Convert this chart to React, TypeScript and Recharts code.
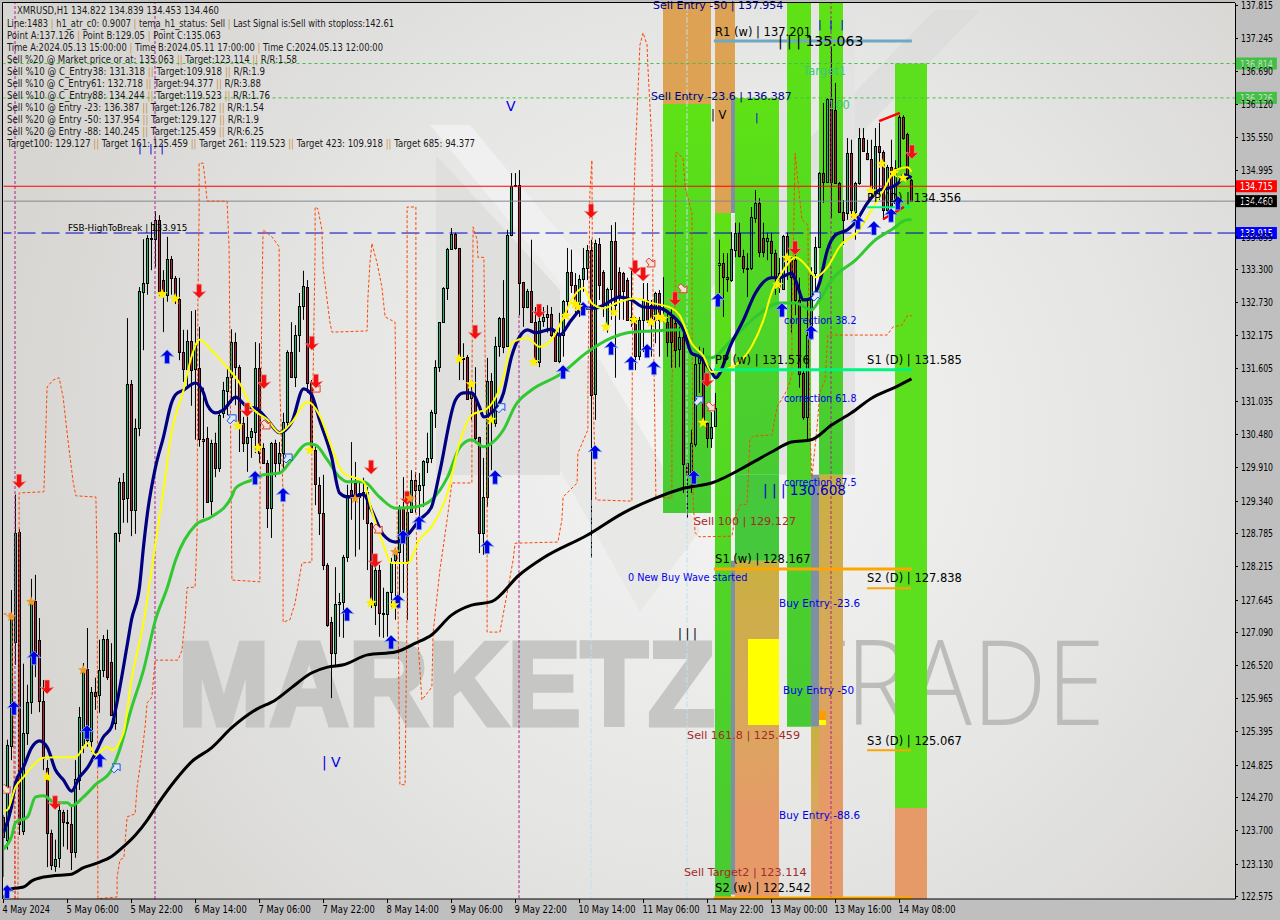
import React from "react";
import { Bar, ComposedChart, Line, ReferenceArea, ReferenceDot, ReferenceLine, Scatter, XAxis, YAxis } from "recharts";

const priceTicks = [137.815, 137.245, 136.69, 136.12, 135.55, 134.995, 134.425, 133.855, 133.3, 132.73, 132.175, 131.605, 131.035, 130.48, 129.91, 129.34, 128.785, 128.215, 127.645, 127.09, 126.52, 125.965, 125.395, 124.825, 124.27, 123.7, 123.13, 122.575];
const timeTicks = ["4 May 2024", "5 May 06:00", "5 May 22:00", "6 May 14:00", "7 May 06:00", "7 May 22:00", "8 May 14:00", "9 May 06:00", "9 May 22:00", "10 May 14:00", "11 May 06:00", "11 May 22:00", "13 May 00:00", "13 May 16:00", "14 May 08:00"];

// open, high, low, close per H1 bar
const ohlc = [
  [123.93,123.96,122.9,123.59],[123.54,125.25,123.37,125.16],[125.14,127.81,124.9,127.33],[126.92,129.44,126.53,128.79],[128.8,128.85,123.62,123.81],[123.69,126.55,123.62,125.37],[125.37,126.19,125.16,125.9],[125.9,128,125.69,127.59],
  [127.62,128.07,126.32,126.75],[126.96,127.33,125.72,125.91],[125.91,126.27,124.73,124.94],[124.77,124.9,123.07,123.66],[123.66,123.71,123.02,123.11],[123.09,123.54,122.99,123.21],[123.23,124.17,123.06,124.05],[124.01,124.05,123.42,123.84],
  [123.84,124.05,123.37,123.83],[123.81,124.13,123.02,123.33],[123.33,124.9,123.23,124.58],[124.56,125.81,124.39,125.64],[125.16,126.56,125.02,126.41],[126.46,127.16,125.13,125.25],[125.23,126.15,125.04,126.07],[126.07,126.31,125.76,126],
  [126.02,126.96,125.71,126.44],[126.44,127.04,126.32,126.97],[126.97,127.13,126.27,126.32],[126.58,126.9,125.66,125.67],[125.54,128.79,125.42,128.79],[128.79,129.73,128.63,129.66],[129.66,129.81,128.96,129.37],[129.38,132.46,128.96,131.33],
  [131.33,131.4,128.73,129.18],[129.18,130.74,128.77,130.58],[130.58,132.99,130.44,132.92],[132.91,133.81,131.91,133.06],[133.06,133.88,132.86,133.83],[133.83,134.1,133.28,133.81],[133.81,134.29,133.33,134.14],[134.14,134.22,132.82,132.89],
  [133.11,133.28,132.22,132.89],[132.86,133.85,132.74,133.47],[133.47,133.52,132.86,133.15],[133.15,133.18,132.7,132.8],[132.79,133.15,131.74,131.88],[131.88,132.26,131.37,131.59],[131.59,132.26,131.25,132.07],[132.07,132.58,130.96,131.57],
  [131.59,132.6,130.38,132],[131.61,132.31,130.26,130.39],[130.39,131.27,129.04,130.36],[130.41,130.6,129.3,129.32],[129.32,130.38,129.09,130.32],[130.32,130.5,129.74,129.9],[129.9,130.84,129.83,130.8],[130.84,131.37,130.75,131.23],
  [131.21,131.61,130.8,131.45],[131.45,132.27,131.01,132.05],[132.05,132.21,130.97,131.62],[131.62,131.66,130.17,130.67],[130.67,130.77,130.17,130.32],[130.32,131.01,129.83,130.43],[130.43,130.58,130.07,130.53],[130.51,132.05,130.15,131.61],
  [131.61,132.03,129.98,130.15],[130.24,130.32,129.98,129.98],[129.98,130.03,128.87,129.21],[129.21,130.34,128.7,130.32],[130.32,130.38,129.74,129.98],[129.98,130.34,129.81,130.15],[130.15,130.84,129.86,130.68],[130.68,131.91,130.6,131.88],
  [131.88,132.39,131.44,131.45],[131.45,132.34,131.28,132.17],[132.17,132.89,131.88,132.67],[132.67,133.27,132.43,133.01],[132.99,133.11,131.18,131.35],[131.35,131.4,130.15,130.2],[130.2,130.26,129.26,129.61],[129.61,129.74,128.75,129.13],
  [129.13,129.78,128.15,128.24],[128.24,128.27,127.18,127.21],[127.26,127.35,125.96,126.73],[126.73,128.2,126.49,127.57],[127.57,127.76,127.01,127.61],[127.61,128.41,126.99,128.38],[128.38,129.61,128.29,129.44],[129.52,130.34,129.01,129.44],
  [129.64,130,128.38,129.4],[129.47,129.64,128.5,129.4],[129.44,129.73,129.01,129.49],[129.49,129.57,128.15,128.96],[128.96,128.97,127.5,127.61],[127.55,128.24,127.21,128.15],[128.15,128.24,127.01,127.42],[127.42,127.85,126.99,127.4],
  [127.4,127.78,127.01,127.78],[127.78,128.36,127.52,128.29],[128.32,128.53,127.3,128.44],[128.46,129.26,127.59,129.21],[129.23,129.74,127.76,128.72],[128.27,129.35,127.3,129.14],[129.14,129.86,129.13,129.69],[129.69,129.83,129.13,129.52],
  [129.52,129.81,128.97,129.61],[129.61,130.03,129.23,130.02],[130,130.5,129.81,130.07],[130.07,130.89,129.98,130.85],[130.84,131.74,130.58,131.62],[131.62,132.39,131.54,132.39],[132.39,132.99,132.38,132.98],[132.98,133.66,132.77,133.64],
  [133.64,134,133.63,133.9],[133.9,133.92,133.63,133.66],[133.66,133.66,131.4,131.78],[131.78,132.03,131.4,131.76],[131.8,131.83,131.06,131.09],[131.09,131.4,130.72,131.18],[131.09,131.62,130.32,130.41],[130.43,130.43,128.44,128.79],
  [128.79,130.07,128.41,129.4],[129.4,131.78,129.23,131.38],[131.38,131.52,129.86,130.77],[130.67,132.14,130.6,131.98],[131.98,132.48,131.8,132.46],[132.46,133.11,131.86,131.97],[131.98,133.97,131.97,133.88],[133.88,134.94,133.86,134.72],
  [134.72,134.94,134.7,134.74],[134.74,134.99,132.51,133.06],[133.08,133.08,132.31,132.65],[132.65,132.96,132.63,132.92],[132.92,133.8,132.38,132.39],[132.39,132.65,131.69,131.71],[131.71,132.51,131.62,132.41],[132.41,132.65,132.31,132.48],
  [132.48,132.68,132.21,132.53],[132.53,132.65,132.14,132.17],[132.19,132.26,131.71,131.73],[131.73,132.55,131.69,132.17],[132.17,132.77,131.8,132.75],[132.75,133.66,132.55,133.25],[133.25,133.63,132.89,133.03],[133.03,133.23,132.48,132.74],
  [132.74,133.2,132.48,133.13],[133.13,133.66,132.91,133.32],[133.32,133.71,133.11,133.63],[133.63,133.8,128.36,131.15],[131.15,133.8,130.72,133.74],[133.73,133.83,132.77,133.03],[133.25,133.28,132.48,132.68],[132.34,132.98,132.21,132.96],
  [132.96,134.05,132.43,133.78],[133.78,134.1,131.44,132.68],[133.25,133.33,132.43,132.86],[133.23,133.25,132.43,132.92],[133.11,133.15,132.43,132.43],[132.43,133.32,132.31,132.48],[132.43,132.48,131.57,131.81],[131.81,132.48,131.74,132.43],
  [132.43,133.06,131.88,132.77],[132.77,133.06,132.38,132.43],[132.68,132.77,131.8,132.46],[132.43,132.91,132.03,132.89],[132.89,132.94,131.8,132.43],[132.43,133.16,132.4,132.46],[132.39,132.55,131.8,132.05],[132.48,132.65,131.61,132.05],
  [132.38,132.43,131.61,131.91],[131.93,132.31,131.62,132.14],[132.14,132.31,129.47,129.97],[129.98,130,129.04,129.78],[129.78,130.55,129.47,130.32],[130.32,131.8,130.26,131.68],[131.69,131.97,131.18,131.8],[131.8,131.95,130.63,130.67],
  [130.67,130.67,130.24,130.41],[130.41,130.85,130.24,130.6],[130.61,131.18,130.6,130.92],[133.37,133.8,132.89,133.4],[133.4,133.57,132.48,133.16],[133.16,133.57,132.91,133.13],[133.11,133.93,133.08,133.64],[133.63,134.09,133.5,133.92],
  [133.92,134.09,133.5,133.52],[133.52,133.63,133.23,133.32],[133.3,133.57,132.82,133.32],[133.32,134.36,133.28,134.19],[134.17,134.65,134.09,134.43],[134.43,134.51,133.5,133.59],[133.83,134.09,133.5,133.59],[133.78,133.92,133.45,133.83],
  [133.78,133.92,133.16,133.57],[133.57,133.63,132.86,133.16],[132.99,133.49,132.89,133.23],[132.96,133.88,132.94,133.86],[133.86,133.92,133.11,133.47],[133.45,133.5,132.21,133.16],[133.45,133.54,132.51,132.77],[132.77,133.15,131.27,131.5],
  [131.52,131.57,130.72,130.77],[130.77,132.77,130.36,132.17],[132.17,133.33,132.09,133.2],[133.23,133.85,132.89,133.68],[133.68,134.96,133.66,134.94],[134.94,136.14,134.43,134.79],[134.79,136.22,134.77,136.21],[136.21,137.1,134.17,134.79],
  [136.02,136.48,134.77,134.77],[134.77,134.79,134.26,134.27],[134.27,134.48,133.71,134.14],[134.26,135.54,134.14,135.28],[135.28,135.51,134.14,134.31],[134.27,134.79,133.8,134.77],[134.77,135.71,134.74,135.54],[135.54,135.71,135.3,135.32],
  [135.28,135.51,135.16,135.18],[135.18,135.51,134.53,134.6],[134.6,135.71,134.57,135.4],[135.4,135.8,134.48,135.3],[135.3,135.33,134.14,134.31],[134.31,135.08,134.27,135.04],[135.04,135.51,134.36,134.38],[134.43,135.16,134.39,135.03],
  [135.03,135.93,135.01,135.9],[135.9,135.93,135.51,135.54],[135.61,135.63,134.82,134.86],[134.822,134.839,134.453,134.46],
];

const ma200Line = [[0,122.54],[2,122.7],[5,122.73],[7,122.83],[10,122.9],[12,122.92],[17,122.95],[20,123.06],[23,123.13],[27,123.25],[30,123.42],[33,123.62],[36,123.88],[39,124.19],[43,124.56],[47,124.87],[52,125.11],[57,125.45],[63,125.76],[68,125.93],[72,126.14],[77,126.39],[81,126.49],[85,126.53],[91,126.7],[98,126.75],[103,126.9],[107,127.04],[112,127.38],[117,127.55],[122,127.61],[129,128.07],[135,128.36],[146,128.75],[155,129.13],[163,129.38],[170,129.55],[177,129.64],[187,129.98],[192,130.17],[197,130.34],[202,130.38],[207,130.63],[212,130.84],[217,131.09],[223,131.28],[227,131.42]];
const navyLine = [[0,123.66],[2,124.1],[3,124.51],[5,124.78],[7,125.11],[9,125.23],[11,125.11],[13,124.73],[15,124.56],[17,124.37],[19,124.61],[21,124.77],[23,125.02],[25,125.3],[27,125.47],[28,125.76],[31,126.9],[32,127.3],[34,127.86],[35,128.55],[36,129.13],[38,129.91],[40,130.43],[42,131.01],[43,131.15],[45,131.23],[48,131.35],[50,131.18],[51,130.97],[53,130.84],[55,130.89],[58,131.11],[61,130.94],[63,130.92],[66,130.72],[69,130.5],[72,130.67],[75,131.25],[77,131.15],[79,130.72],[82,130.09],[84,129.47],[86,129.4],[90,129.44],[92,129.18],[95,128.75],[98,128.63],[101,128.75],[104,129.01],[107,129.23],[109,129.81],[113,131.06],[115,131.18],[117,131.18],[119,130.94],[120,130.77],[122,130.84],[125,131.18],[127,131.8],[129,132.14],[131,132.26],[133,132.21],[137,132.27],[139,132.17],[142,132.43],[145,132.63],[148,132.63],[150,132.68],[154,132.82],[157,132.77],[160,132.65],[164,132.63],[167,132.51],[170,132.26],[172,131.86],[174,131.8],[177,131.54],[178,131.44],[182,132.03],[185,132.43],[188,132.89],[192,133.15],[194,133.15],[197,133.23],[198,133.11],[200,132.77],[202,132.8],[204,133.06],[206,133.63],[208,133.88],[211,133.97],[213,134.1],[216,134.43],[219,134.65],[222,134.7],[224,134.79],[225,134.91],[227,134.86]];
const yellowLine = [[0,124.03],[1,124.05],[3,124.44],[5,124.61],[7,124.78],[10,124.94],[13,124.95],[18,124.95],[21,125.19],[23,124.99],[26,125.13],[27,125.07],[30,125.37],[32,126.27],[35,127.25],[38,128.61],[40,129.52],[42,130.5],[45,131.23],[47,131.8],[49,132.09],[52,131.91],[56,131.61],[59,131.35],[62,130.94],[66,130.72],[69,130.5],[72,130.67],[76,131.03],[79,130.8],[82,130.26],[84,129.91],[85,129.81],[90,129.66],[92,129.18],[95,128.58],[97,128.27],[101,128.27],[104,128.67],[107,128.89],[111,129.47],[114,130.32],[117,130.8],[121,130.92],[125,131.45],[127,132.03],[131,132.12],[134,131.97],[137,132.09],[140,132.48],[142,132.77],[145,132.98],[147,132.72],[150,132.63],[154,132.74],[158,132.8],[162,132.72],[167,132.63],[169,132.51],[172,132.03],[175,131.81],[177,131.54],[182,131.62],[187,131.97],[190,132.43],[192,132.89],[195,133.28],[198,133.5],[201,133.33],[203,133.16],[206,133.33],[209,133.68],[214,133.97],[217,134.31],[220,134.65],[223,134.99],[226,135.04],[227,134.96]];
const greenLine = [[0,123.38],[2,123.59],[3,123.83],[6,123.93],[8,124.27],[10,124.29],[13,124.17],[16,124.17],[17,124.12],[20,124.27],[23,124.48],[27,124.73],[29,125.07],[32,125.79],[35,126.44],[38,127.3],[41,127.86],[43,128.32],[48,128.92],[52,129.06],[57,129.4],[58,129.55],[62,129.69],[65,129.78],[69,129.81],[72,130.03],[76,130.31],[78,130.29],[81,130.03],[84,129.74],[86,129.66],[90,129.66],[94,129.4],[98,129.21],[103,129.23],[107,129.35],[111,129.74],[114,130.24],[117,130.38],[120,130.26],[122,130.32],[125,130.55],[128,130.97],[132,131.23],[139,131.49],[146,131.88],[152,132.12],[156,132.21],[162,132.24],[170,132.26],[172,131.97],[177,131.78],[182,132.09],[188,132.48],[194,132.72],[198,132.72],[202,132.6],[204,132.77],[207,133.11],[213,133.45],[218,133.8],[222,133.97],[226,134.14],[227,134.14]];
const stopLine = [[0,127.4],[2.1,127.4],[2.6,124.9],[2.9,122.53],[3.6,122.53],[3.9,127.3],[3.9,129.47],[10.1,129.49],[10.4,130.15],[10.9,131.28],[12.4,131.4],[13.9,131.44],[14.9,131.11],[16.1,130.38],[17.4,129.66],[18.1,129.42],[23.1,129.4],[23.4,128.27],[23.6,122.53],[28.4,122.56],[28.4,122.9],[29.1,123.19],[30.1,123.23],[30.9,123.93],[32.9,123.98],[33.4,124.44],[34.6,125.02],[35.4,125.47],[35.9,125.88],[37.1,125.98],[37.9,126.61],[43.6,126.61],[44.6,126.78],[45.4,127.3],[45.9,127.85],[47.9,127.86],[48.4,128.79],[48.6,132.77],[48.9,134.22],[48.9,135.11],[49.9,135.11],[50.4,134.82],[50.9,134.46],[55.9,134.46],[56.4,133.66],[57.1,127.98],[64.1,127.95],[64.1,129.23],[64.6,132.82],[64.9,133.97],[67.1,133.85],[68.9,133.68],[69.1,131.28],[69.9,129.4],[69.9,127.26],[71.6,127.3],[72.9,127.59],[74.6,128.27],[77.1,128.29],[77.1,130.15],[77.9,133.63],[77.9,134.36],[78.6,134.33],[79.6,133.97],[79.9,133.33],[80.9,132.77],[81.6,132.39],[82.1,132.22],[90.9,132.24],[91.1,132.8],[91.6,133.4],[92.1,133.74],[93.4,133.4],[94.6,132.99],[95.4,132.48],[97.9,132.39],[98.4,129.01],[99.1,124.48],[100.4,124.48],[100.9,127.64],[100.9,134.36],[103.1,134.36],[103.1,129.35],[103.6,126.96],[104.6,125.93],[107.1,126.15],[107.4,127.08],[109.1,128.15],[110.9,129.01],[112.1,129.64],[117.1,129.64],[117.1,131.28],[117.4,134.02],[118.4,133.8],[118.6,133.5],[120.1,133.5],[120.4,131.8],[120.9,130.15],[120.9,127.09],[124.1,127.09],[125.6,127.64],[127.4,128.32],[127.9,128.61],[138.6,128.63],[139.6,129.01],[139.9,129.4],[143.4,129.64],[143.6,130.15],[146.1,130.55],[146.1,131.18],[146.6,134.6],[147.1,135.16],[147.4,131.18],[148.1,129.35],[157.1,129.33],[157.1,130.32],[157.4,134.02],[157.9,135.16],[159.1,137.13],[159.9,137.34],[160.9,137.13],[161.1,136.75],[162.1,135.45],[162.4,132.77],[162.9,130.32],[163.1,129.4],[167.1,129.38],[167.1,131.35],[167.9,132.77],[168.1,135.3],[169.9,135.2],[170.4,134.7],[172.1,134.26],[172.1,132.77],[172.4,129.35],[172.9,128.79],[173.9,128.72],[182.1,128.73],[182.9,129.06],[184.1,129.26],[185.9,129.28],[186.6,130.38],[187.4,130.44],[192.1,130.46],[193.4,130.94],[195.9,131.23],[197.1,131.49],[197.1,132.31],[197.9,135.28],[199.6,134.14],[201.1,134.05],[201.6,130.5],[202.1,129.74],[203.4,130.6],[204.1,131.2],[205.4,131.4],[206.1,132.17],[220.9,132.17],[222.4,132.31],[224.6,132.34],[225.9,132.5],[227.1,132.5]];

const buyArrows = [[0.9,122.65],[2.6,125.79],[7.6,126.65],[20.9,125.38],[24.1,124.9],[40.9,131.8],[62.9,129.73],[69.9,129.44],[85.9,127.4],[96.9,126.92],[98.6,127.62],[103.9,128.96],[99.9,128.72],[122.9,129.74],[120.9,128.55],[139.9,131.54],[151.9,131.95],[156.9,131.69],[160.9,131.9],[162.6,131.61],[172.6,129.74],[147.9,130.17],[144.9,132.62],[178.6,132.77],[194.6,132.6],[201.9,132.22],[213.6,134.1],[217.6,134],[221.9,134.22],[223.6,134.43]];
const sellArrows = [[3.9,129.67],[10.9,126.15],[12.9,124.17],[48.9,132.92],[60.9,130.89],[65.1,131.37],[77.1,132.03],[78.1,131.38],[91.9,129.91],[92.9,128.31],[100.9,129.38],[117.9,132.22],[133.9,132.58],[146.9,134.29],[157.9,133.33],[159.9,133.21],[167.9,132.79],[175.9,131.4],[197.9,133.66],[227.1,135.3]];
const yellowStars = [[10.9,124.61],[39.6,132.87],[42.9,132.79],[58.6,130.62],[63.6,130.24],[76.6,130.2],[91.9,127.59],[97.6,127.55],[113.9,131.76],[116.9,131.33],[121.9,130.72],[132.6,131.71],[140.6,132.5],[142.9,132.7],[143.6,132.65],[150.6,132.31],[152.6,132.56],[157.6,132.43],[161.9,132.39],[163.6,132.48],[164.9,132.45],[174.9,130.67],[193.6,133.03],[195.9,133.49],[212.6,134.21],[216.9,134.63],[219.6,135.1],[222.6,134.94],[224.9,134.86]];
const orangeStars = [[1.9,127.35],[6.9,127.61],[19.9,126.44],[87.9,129.37],[97.9,128.46],[101.6,129.38]];
const hollowBlue = [[27.9,124.75],[56.9,130.72],[70.9,130.05],[124.1,130.91],[202.9,132.82],[173.6,131.03]];
const hollowRed = [[65.4,130.65],[77.9,131.28],[93.4,128.87],[161.6,133.42],[169.6,132.98],[176.6,130.96],[0.4,124.42]];

// bar from, bar to, price from, price to
const paleZones = [[193.875,195.875,136.226,129.78],[209.875,212.875,137.85,129.78]];
const sellZones = [[164.875,176.875,137.85,136.12],[177.875,182.875,137.85,134.258]];
const greenZones = [[164.875,176.875,136.12,129.127],[177.875,181.875,134.258,122.525],[182.875,193.875,136.226,129.78],[195.875,201.875,137.85,125.47],[203.875,209.875,137.85,129.78]];
const brightZones = [[222.875,230.875,136.814,124.08]];
const darkZones = [[182.875,193.875,129.78,128.31]];
const slateZones = [[181.875,182.875,136.226,134.258],[181.875,182.875,128.31,122.6],[201.875,203.875,129.78,125.47]];
const lowerZones = [[182.875,193.875,128.31,122.525],[201.875,203.875,125.47,122.525],[203.875,209.875,129.78,122.525]];
const peachZones = [[222.875,230.875,124.08,122.525]];
const yellowZones = [[186.125,193.875,126.97,125.5],[203.875,205.625,125.59,125.5]];
const amberZones = [[203.875,205.625,125.74,125.59]];

const infoLines = [
  "Line:1483 | h1_atr_c0: 0.9007 | tema_h1_status: Sell | Last Signal is:Sell with stoploss:142.61",
  "Point A:137.126 | Point B:129.05 | Point C:135.063",
  "Time A:2024.05.13 15:00:00 | Time B:2024.05.11 17:00:00 | Time C:2024.05.13 12:00:00",
  "Sell %20 @ Market price or at: 135.063 || Target:123.114 || R/R:1.58",
  "Sell %10 @ C_Entry38: 131.318 || Target:109.918 || R/R:1.9",
  "Sell %10 @ C_Entry61: 132.718 || Target:94.377 || R/R:3.88",
  "Sell %10 @ C_Entry88: 134.244 || Target:119.523 || R/R:1.76",
  "Sell %10 @ Entry -23: 136.387 || Target:126.782 || R/R:1.54",
  "Sell %20 @ Entry -50: 137.954 || Target:129.127 || R/R:1.9",
  "Sell %20 @ Entry -88: 140.245 || Target:125.459 || R/R:6.25",
  "Target100: 129.127 || Target 161: 125.459 || Target 261: 119.523 || Target 423: 109.918 || Target 685: 94.377",
];
const infoWidths = [387, 214, 376, 290, 258, 254, 263, 257, 252, 257, 468];

type Note = [string, number, number, string];
const notes: Note[] = [
  ["FSB-HighToBreak | 133.915", 16.1, 134.0, "tiny"],
  ["Sell Entry -50 | 137.954", 162.4, 137.81, "navy"],
  ["R1 (w) | 137.201", 177.9, 137.35, "plain"],
  ["| | | 135.063", 193.6, 137.2, "large"],
  ["| | |", 203.6, 137.49, "pipes"],
  ["Target1", 199.9, 136.69, "green"],
  ["Sell Entry -23.6 | 136.387", 161.9, 136.26, "navy"],
  ["| V", 176.9, 135.93, "plain"],
  ["|", 187.9, 135.9, "blue"],
  ["V", 125.6, 136.09, "vee"],
  ["| V", 79.6, 124.87, "vee"],
  ["100", 206.1, 136.1, "green"],
  ["PP (D) | 134.356", 215.9, 134.51, "plain"],
  ["correction 38.2", 195.1, 132.41, "correction"],
  ["PP (w) | 131.576", 177.9, 131.74, "plain"],
  ["S1 (D) | 131.585", 215.9, 131.74, "plain"],
  ["correction 61.8", 195.1, 131.08, "correction"],
  ["correction 87.5", 195.1, 129.64, "correction"],
  ["| | | 130.608", 189.9, 129.52, "largeBlue"],
  ["Sell 100 | 129.127", 172.6, 128.99, "brown"],
  ["S1 (w) | 128.167", 177.9, 128.34, "plain"],
  ["0 New Buy Wave started", 156.1, 128.02, "blueSmall"],
  ["S2 (D) | 127.838", 215.9, 128.02, "plain"],
  ["Buy Entry -23.6", 193.9, 127.59, "blue"],
  ["| | |", 168.6, 127.06, "plain"],
  ["Buy Entry -50", 194.9, 126.1, "blue"],
  ["Sell 161.8 | 125.459", 170.9, 125.33, "brown"],
  ["S3 (D) | 125.067", 215.9, 125.23, "plain"],
  ["Buy Entry -88.6", 193.9, 123.95, "blue"],
  ["Sell Target2 | 123.114", 170.1, 122.99, "brown"],
  ["S2 (w) | 122.542", 177.9, 122.72, "plain"],
  ["| | |", 33.6, 135.37, "pipes"],
];

const noteStyles: Record<string, { fill: string; size: number; spacing?: number }> = {
  plain: { fill: "#000", size: 11.5 },
  tiny: { fill: "#000", size: 8.8 },
  navy: { fill: "#00008b", size: 11 },
  blue: { fill: "#0000e6", size: 10.4 },
  correction: { fill: "#0000e6", size: 9.6 },
  vee: { fill: "#0000e6", size: 14 },
  blueSmall: { fill: "#0000e6", size: 9.7 },
  brown: { fill: "#a52a2a", size: 11.2 },
  green: { fill: "#3cc878", size: 11.5 },
  large: { fill: "#000", size: 14 },
  largeBlue: { fill: "#0000cd", size: 13.6 },
  pipes: { fill: "#0000e6", size: 11, spacing: 2 },
};

const priceTags: [number, string, string][] = [
  [136.814, "#41c043", "#c9dcc9"],
  [136.226, "#41c043", "#c9dcc9"],
  [134.715, "#ff0000", "#fff"],
  [134.46, "#000", "#fff"],
  [133.915, "#0000ff", "#fff"],
];

const candles = ohlc.map((c, i) => ({ i, open: c[0], high: c[1], low: c[2], close: c[3] }));
const toPoints = (list: number[][]) => list.map(([i, p]) => ({ i, p }));
const UI_FONT = "'DejaVu Sans', sans-serif";

const Candle = (props: any) => {
  const { x, y, width, height, payload } = props;
  const cx = x + width / 2;
  const perUnit = height / (payload.high - payload.low);
  const top = Math.max(payload.open, payload.close);
  const bottom = Math.min(payload.open, payload.close);
  const bodyTop = Math.round(y + (payload.high - top) * perUnit) + 0.5;
  const bodyH = Math.max(1, Math.round((top - bottom) * perUnit));
  const up = payload.close >= payload.open;
  return (
    <g>
      <line x1={cx} x2={cx} y1={y} y2={y + height} stroke="#000" />
      <rect x={cx - 1} y={bodyTop} width={2} height={bodyH} fill={up ? "#26b873" : "#b3243c"} stroke="#000" />
    </g>
  );
};

const UpArrow = ({ cx, cy }: any) => (
  <path d={`M${cx} ${cy - 7}l7 7-4.5-1v8h-5v-8l-4.5 1z`} fill="#0000e6" stroke="#8fb4ea" strokeWidth={0.8} />
);
const DownArrow = ({ cx, cy }: any) => (
  <path d={`M${cx} ${cy + 7}l-7-7 4.5 1v-8h5v8l4.5-1z`} fill="#f01010" stroke="#f0a0a0" strokeWidth={0.6} />
);
const starPath = (cx: number, cy: number, r: number) => {
  let d = "";
  for (let k = 0; k < 10; k++) {
    const rad = k % 2 ? r * 0.42 : r;
    const a = -Math.PI / 2 + (k * Math.PI) / 5;
    d += `${k ? "L" : "M"}${cx + rad * Math.cos(a)} ${cy + rad * Math.sin(a)}`;
  }
  return d + "z";
};
const YellowStar = ({ cx, cy }: any) => <path d={starPath(cx, cy, 6)} fill="#ffee00" />;
const OrangeStar = ({ cx, cy }: any) => <path d={starPath(cx, cy, 5.5)} fill="#ee9a28" />;
const HollowBlue = ({ cx, cy }: any) => (
  <path d={`M${cx + 5} ${cy - 5}h-8l2 2-3 4 3 3 4-4 2 2z`} fill="#dfe8f8" stroke="#2050e0" />
);
const HollowRed = ({ cx, cy }: any) => (
  <path d={`M${cx + 5} ${cy + 5}h-8l2-2-3-4 3-3 4 4 2-2z`} fill="#f4e0d8" stroke="#e04030" />
);

const PriceTick = ({ x, y, payload }: any) => (
  <g>
    <line x1={1235} x2={1238} y1={Math.round(y) + 0.5} y2={Math.round(y) + 0.5} stroke="#000" />
    <text x={1241} y={y + 4} fontFamily={UI_FONT} fontSize={10.5} textLength={32} lengthAdjust="spacingAndGlyphs" fill="#000">
      {payload.value.toFixed(3)}
    </text>
  </g>
);
const TimeTick = ({ x, payload }: any) => {
  const label = timeTicks[payload.value / 16];
  return (
    <g>
      <line x1={x} x2={x} y1={899} y2={903} stroke="#000" />
      <text x={x - 1} y={913} fontFamily={UI_FONT} fontSize={10.5} textLength={label.length * 4.75} lengthAdjust="spacingAndGlyphs" fill="#000">
        {label}
      </text>
    </g>
  );
};

const InfoLine = ({ text, y, width }: { text: string; y: number; width: number }) => (
  <text x={7} y={y} fontFamily={UI_FONT} fontSize={10} textLength={width} lengthAdjust="spacingAndGlyphs" fill="#1a1a1a">
    {text.split(/(\|+)/).map((part, n) => (
      <tspan key={n} fill={part.startsWith("|") ? "#c8923c" : undefined}>{part}</tspan>
    ))}
  </text>
);

const zoneAreas = (list: number[][], fill: string, opacity = 1) =>
  list.map((z, n) => (
    <ReferenceArea key={fill + n} x1={z[0]} x2={z[1]} y1={z[2]} y2={z[3]} fill={fill} fillOpacity={opacity} stroke="none" ifOverflow="visible" />
  ));

const segment = (i1: number, i2: number, p1: number, p2: number, stroke: string, width: number, dash?: string) => (
  <ReferenceLine
    key={`${i1}-${p1}`}
    segment={[{ x: i1, y: p1 }, { x: i2, y: p2 }]}
    stroke={stroke}
    strokeWidth={width}
    strokeDasharray={dash}
    ifOverflow="visible"
  />
);

export default function App() {
  return (
    <div style={{ position: "absolute", left: 0, top: 0, width: 1280, height: 920, background: "#bfbfbf", overflow: "hidden" }}>
      <svg width={1280} height={920} style={{ position: "absolute", left: 0, top: 0 }}>
        <defs>
          <radialGradient id="plotBg" gradientUnits="userSpaceOnUse" cx={720} cy={440} r={720}>
            <stop offset="0%" stopColor="#f5f5f5" />
            <stop offset="55%" stopColor="#e6e6e5" />
            <stop offset="100%" stopColor="#d7d6d3" />
          </radialGradient>
          <linearGradient id="zoneGreen" x1="0" y1="0" x2="0" y2="1">
            <stop offset="0%" stopColor="#5fe214" />
            <stop offset="40%" stopColor="#52d822" />
            <stop offset="100%" stopColor="#47cb33" />
          </linearGradient>
          <linearGradient id="zoneOrange" x1="0" y1="0" x2="0" y2="1">
            <stop offset="0%" stopColor="#c8b040" />
            <stop offset="45%" stopColor="#d9a85c" />
            <stop offset="75%" stopColor="#e59a68" />
            <stop offset="100%" stopColor="#e59a68" />
          </linearGradient>
        </defs>
        <rect x={3} y={3} width={1232} height={896} fill="url(#plotBg)" />
        <polygon points="436,155 560,290 560,475 436,475" fill="#dfdfde" />
        <polygon points="470,125 690,390 690,440 430,125" fill="#f0f0f0" />
        <polygon points="560,360 600,360 700,530 640,612 560,470" fill="#e8e8e7" />
        <polygon points="700,300 980,10 935,10 700,250" fill="#d8d8d8" opacity={0.5} />
        <text x={178} y={725} fontFamily="'Liberation Sans', sans-serif" fontWeight={700} fontSize={118} textLength={537} lengthAdjust="spacingAndGlyphs" fill="#c6c6c5" stroke="#c6c6c5" strokeWidth={5}>
          MARKETZ
        </text>
        <text x={790} y={725} fontFamily="'Open Sans', sans-serif" fontWeight={300} fontSize={118} textLength={315} lengthAdjust="spacingAndGlyphs" fill="#bcbcbb">
          TRADE
        </text>
      </svg>

      <ComposedChart
        width={1280}
        height={920}
        data={candles}
        margin={{ top: 3, right: 0, bottom: 0, left: 3.5 }}
        barSize={3}
        style={{ position: "absolute", left: 0, top: 0 }}
      >
        <XAxis
          dataKey="i"
          type="number"
          scale="linear"
          domain={[0, 308]}
          ticks={timeTicks.map((_, n) => n * 16)}
          interval={0}
          height={21}
          allowDataOverflow
          tick={TimeTick}
          tickLine={false}
          axisLine={{ stroke: "#000" }}
        />
        <YAxis
          orientation="right"
          type="number"
          domain={[122.525, 137.849]}
          ticks={priceTicks}
          interval={0}
          width={44.5}
          allowDataOverflow
          tick={PriceTick}
          tickLine={false}
          axisLine={{ stroke: "#000" }}
        />

        {zoneAreas(paleZones, "#e3e3e3")}
        {zoneAreas(sellZones, "#dda253")}
        {zoneAreas(lowerZones, "url(#zoneOrange)")}
        {zoneAreas(peachZones, "#e59a68")}
        {zoneAreas(greenZones, "url(#zoneGreen)")}
        {zoneAreas(brightZones, "#5ce01e")}
        {zoneAreas(darkZones, "#45c83c")}
        {zoneAreas(slateZones, "#7f8fa4")}
        {zoneAreas(yellowZones, "#ffff00")}
        {zoneAreas(amberZones, "#ff9d00")}

        <ReferenceLine x={2.875} stroke="#b0208a" strokeDasharray="3 2" />
        <ReferenceLine x={37.875} stroke="#b0208a" strokeDasharray="3 2" />
        <ReferenceLine x={206.875} stroke="#b0208a" strokeDasharray="3 2" />
        {segment(128.875, 128.875, 132.51, 122.525, "#b0208a", 1, "3 2")}
        <ReferenceLine x={170.875} stroke="#bfe0ec" strokeDasharray="6 2 2 2" />
        {segment(146.875, 146.875, 129.35, 122.525, "#bfe0ec", 1, "6 2 2 2")}
        <ReferenceLine y={136.814} stroke="#41c043" strokeDasharray="3 3" />
        <ReferenceLine y={136.226} stroke="#41c043" strokeDasharray="3 3" />
        <ReferenceLine y={134.715} stroke="#ff0000" />
        <ReferenceLine y={134.46} stroke="#808890" />
        <ReferenceLine y={133.915} stroke="#0000c8" strokeDasharray="18 6" />

        <Bar dataKey={(d: any) => [d.low, d.high]} shape={Candle} isAnimationActive={false} />

        <Line data={toPoints(stopLine)} dataKey="p" stroke="#ff4500" strokeWidth={1} strokeDasharray="3 2" dot={false} activeDot={false} isAnimationActive={false} />
        <Line type="monotone" data={toPoints(ma200Line)} dataKey="p" stroke="#000" strokeWidth={3} dot={false} activeDot={false} isAnimationActive={false} />
        <Line type="monotone" data={toPoints(greenLine)} dataKey="p" stroke="#32c832" strokeWidth={3} dot={false} activeDot={false} isAnimationActive={false} />
        <Line type="monotone" data={toPoints(navyLine)} dataKey="p" stroke="#000080" strokeWidth={3.2} dot={false} activeDot={false} isAnimationActive={false} />
        <Line type="monotone" data={toPoints(yellowLine)} dataKey="p" stroke="#ffff00" strokeWidth={2} dot={false} activeDot={false} isAnimationActive={false} />

        {segment(177.6, 227.1, 137.201, 137.201, "#6fa8c4", 3)}
        {segment(177.6, 227.1, 131.576, 131.576, "#00f57f", 3)}
        {segment(177.6, 227.1, 128.167, 128.167, "#ffa500", 3)}
        {segment(177.6, 227.1, 122.542, 122.542, "#ffa500", 3)}
        {segment(215.9, 226.9, 134.356, 134.356, "#00f57f", 2)}
        {segment(215.9, 226.9, 127.838, 127.838, "#ffa500", 2)}
        {segment(215.9, 226.9, 125.067, 125.067, "#ffa500", 2)}
        {segment(218.9, 224.1, 135.83, 135.97, "#ff0000", 2.5)}
        {segment(219.9, 225.1, 134.15, 134.36, "#ff0000", 2.5)}

        <Scatter data={toPoints(hollowBlue)} dataKey="p" shape={HollowBlue} isAnimationActive={false} />
        <Scatter data={toPoints(hollowRed)} dataKey="p" shape={HollowRed} isAnimationActive={false} />
        <Scatter data={toPoints(buyArrows)} dataKey="p" shape={UpArrow} isAnimationActive={false} />
        <Scatter data={toPoints(sellArrows)} dataKey="p" shape={DownArrow} isAnimationActive={false} />
        <Scatter data={toPoints(yellowStars)} dataKey="p" shape={YellowStar} isAnimationActive={false} />
        <Scatter data={toPoints(orangeStars)} dataKey="p" shape={OrangeStar} isAnimationActive={false} />

        {notes.map(([text, i, p, kind], n) => {
          const st = noteStyles[kind];
          return (
            <ReferenceDot
              key={n}
              x={i}
              y={p}
              r={0}
              ifOverflow="visible"
              shape={({ cx, cy }: any) => (
                <text x={cx} y={cy + st.size * 0.36} fontFamily={UI_FONT} fontSize={st.size} letterSpacing={st.spacing} fill={st.fill}>
                  {text}
                </text>
              )}
            />
          );
        })}
        {priceTags.map(([p, bg, fg]) => (
          <ReferenceDot
            key={p}
            x={308.1}
            y={p}
            r={0}
            ifOverflow="visible"
            shape={({ cx, cy }: any) => (
              <g>
                <rect x={cx} y={cy - 6} width={41} height={12} fill={bg} />
                <text x={cx + 4} y={cy + 4} fontFamily={UI_FONT} fontSize={10.5} textLength={33} lengthAdjust="spacingAndGlyphs" fill={fg}>
                  {p.toFixed(3)}
                </text>
              </g>
            )}
          />
        ))}
      </ComposedChart>

      <svg width={1280} height={920} style={{ position: "absolute", left: 0, top: 0, pointerEvents: "none" }}>
        <path d="M2.5 899V2.5H1235" fill="none" stroke="#000" />
        <text x={17} y={14} fontFamily={UI_FONT} fontSize={10} textLength={202} lengthAdjust="spacingAndGlyphs" fill="#1a1a1a">
          XMRUSD,H1  134.822 134.839 134.453 134.460
        </text>
        {infoLines.map((line, n) => (
          <InfoLine key={n} text={line} y={27 + n * 12} width={infoWidths[n]} />
        ))}
      </svg>
    </div>
  );
}
